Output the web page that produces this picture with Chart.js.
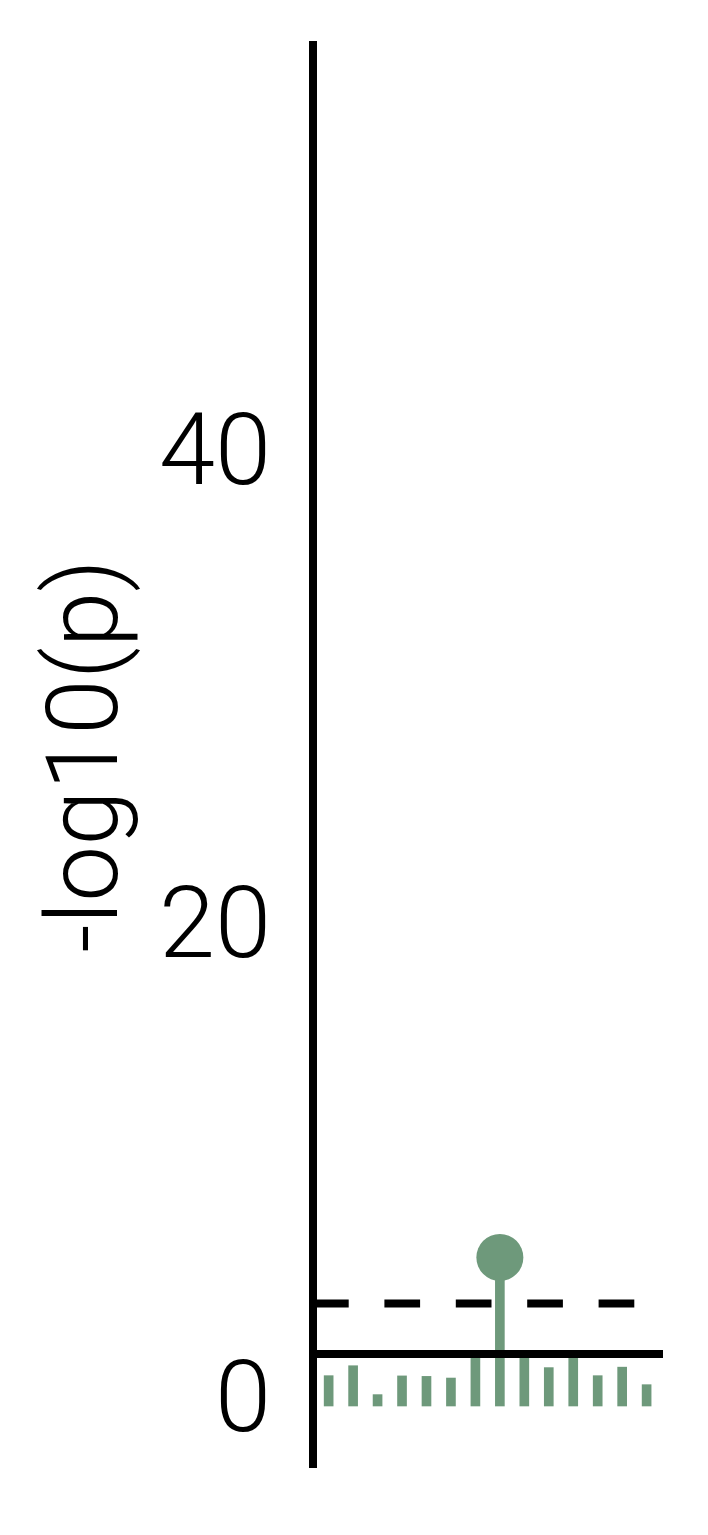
<!DOCTYPE html>
<html>
<head>
<meta charset="utf-8">
<script src="https://cdn.jsdelivr.net/npm/chart.js@4/dist/chart.umd.min.js"></script>
<style>
  html, body { margin: 0; padding: 0; background: #ffffff; }
  #wrap { width: 708px; height: 1535px; position: relative; }
</style>
</head>
<body>
<div id="wrap"><canvas id="c" width="708" height="1535"></canvas></div>
<script>
// ---- data ----
const positions = [0, 1, 2, 3, 4, 5, 6, 7, 8, 9, 10, 11, 12, 13];
const barValues = [1.28, 1.70, 0.48, 1.27, 1.25, 1.18, 2.1, 2.1, 2.1, 1.62, 2.1, 1.28, 1.64, 0.90];
const hitPosition = [7];
const hitValue = [6.27];
const baselineValue = [2.2];
const thresholdValue = [4.33];
const yTicks = [0, 20, 40];
const yRange = [-2.575, 57.45];
const xRange = [-0.64, 13.67];
const yTitle = '-log10(p)';

const green = '#6e997b';
const fontFamily = 'Roboto, "Liberation Sans", Arial, sans-serif';

const barData = positions.map((p, i) => ({ x: p, y: barValues[i] }));
const stemData = hitPosition.map((p, i) => ({ x: p, y: [baselineValue[0], hitValue[i]] }));
const dotData = hitPosition.map((p, i) => ({ x: p, y: hitValue[i] }));
const baseLine = xRange.map(x => ({ x: x, y: baselineValue[0] }));
const threshLine = xRange.map(x => ({ x: x, y: thresholdValue[0] }));

new Chart(document.getElementById('c'), {
  type: 'bar',
  data: {
    datasets: [
      { type: 'line', data: baseLine, borderColor: '#000', borderWidth: 8, pointRadius: 0, order: 0, borderCapStyle: 'butt' },
      { type: 'line', data: threshLine, borderColor: '#000', borderWidth: 8, pointRadius: 0, borderDash: [35.7, 35.7], order: 1, borderCapStyle: 'butt' },
      { type: 'scatter', data: dotData, backgroundColor: green, borderWidth: 0, pointRadius: 23.5, order: 2 },
      { type: 'bar', data: stemData, backgroundColor: green, barThickness: 9, grouped: false, order: 3 },
      { type: 'bar', data: barData, backgroundColor: green, barThickness: 9, grouped: false, order: 4 }
    ]
  },
  options: {
    responsive: false,
    animation: false,
    events: [],
    layout: { padding: { left: 0, right: 45, top: 45, bottom: 68 } },
    plugins: { legend: { display: false }, tooltip: { enabled: false } },
    scales: {
      x: {
        type: 'linear',
        display: false,
        offset: false,
        min: xRange[0],
        max: xRange[1]
      },
      y: {
        type: 'linear',
        min: yRange[0],
        max: yRange[1],
        afterBuildTicks: s => { s.ticks = yTicks.map(v => ({ value: v })); },
        afterFit: s => { s.width = 313; s.paddingTop = 0; s.paddingBottom = 0; },
        grid: { display: false, drawTicks: false },
        border: { display: true, color: '#000', width: 8 },
        ticks: {
          color: '#000',
          padding: 42,
          font: { family: fontFamily, size: 101, weight: '300' }
        },
        title: {
          display: true,
          text: yTitle,
          color: '#000',
          padding: { top: 32, bottom: 0 },
          font: { family: fontFamily, size: 100, weight: '300' }
        }
      }
    }
  }
});
</script>
</body>
</html>
